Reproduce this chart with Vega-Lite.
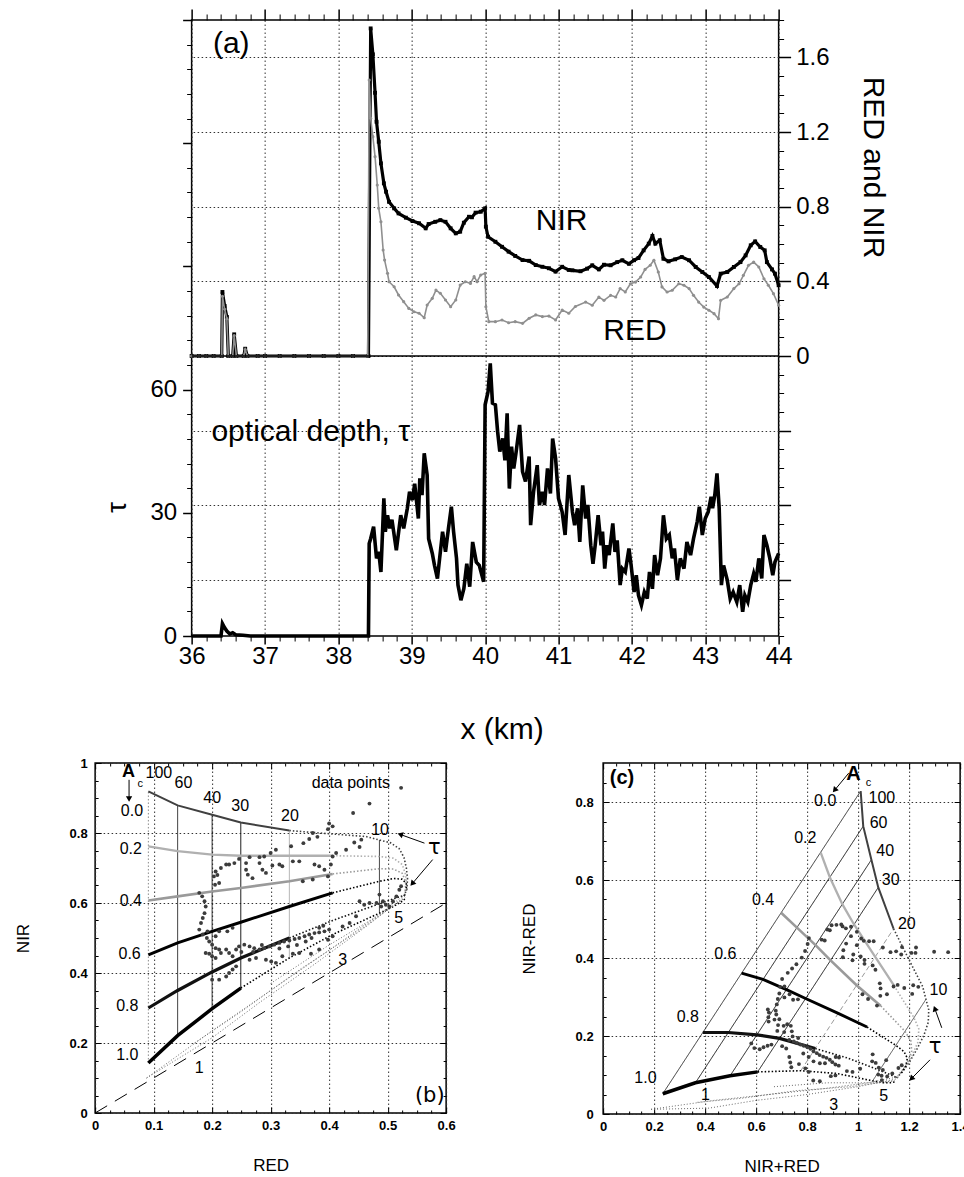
{
  "$schema": "https://vega.github.io/schema/vega-lite/v6.json",
  "background": "white",
  "padding": {"left": 13, "top": 7, "right": 0, "bottom": 0},
  "config": {
    "font": "Liberation Sans",
    "view": {"stroke": "black", "strokeWidth": 1.5},
    "axis": {"domain": false, "grid": false, "labelFlush": false, "labelOverlap": false, "tickColor": "black", "tickWidth": 1, "labelColor": "black", "titleColor": "black", "labelFont": "Liberation Sans", "titleFont": "Liberation Sans", "titleFontWeight": "normal", "gridColor": "#333333", "gridDash": [1.5, 2.5], "gridOpacity": 1, "gridWidth": 1},
    "text": {"font": "Liberation Sans", "color": "black"}
  },
  "datasets": {
    "nir": [
      {"km":36.0,"value":0},{"km":36.1,"value":0},{"km":36.2,"value":0},{"km":36.3,"value":0},{"km":36.41,"value":0},{"km":36.42,"value":0.343},{"km":36.45,"value":0.268},{"km":36.48,"value":0.209},{"km":36.5,"value":0},{"km":36.56,"value":0},{"km":36.58,"value":0.116},{"km":36.61,"value":0},{"km":36.71,"value":0},{"km":36.73,"value":0.039},{"km":36.76,"value":0},{"km":36.9,"value":0},{"km":37.0,"value":0},{"km":37.2,"value":0},{"km":37.4,"value":0},{"km":37.6,"value":0},{"km":37.8,"value":0},{"km":38.0,"value":0},{"km":38.2,"value":0},{"km":38.41,"value":0},
      {"km":38.44,"value":1.755},{"km":38.47,"value":1.616},{"km":38.5,"value":1.41},{"km":38.52,"value":1.255},{"km":38.55,"value":1.148},{"km":38.58,"value":1.032},{"km":38.62,"value":0.925},{"km":38.65,"value":0.88},{"km":38.69,"value":0.826},{"km":38.76,"value":0.791},{"km":38.82,"value":0.764},{"km":38.92,"value":0.741},{"km":39.01,"value":0.723},{"km":39.1,"value":0.711},{"km":39.19,"value":0.684},{"km":39.23,"value":0.707},{"km":39.32,"value":0.719},{"km":39.39,"value":0.728},{"km":39.46,"value":0.719},{"km":39.53,"value":0.684},{"km":39.6,"value":0.657},{"km":39.66,"value":0.666},{"km":39.71,"value":0.714},{"km":39.78,"value":0.746},{"km":39.82,"value":0.743},{"km":39.87,"value":0.768},{"km":39.94,"value":0.773},{"km":40.0,"value":0.791},{"km":40.01,"value":0.693},{"km":40.04,"value":0.639},{"km":40.14,"value":0.612},{"km":40.23,"value":0.585},{"km":40.32,"value":0.559},{"km":40.41,"value":0.536},{"km":40.51,"value":0.514},{"km":40.6,"value":0.51},{"km":40.69,"value":0.487},{"km":40.78,"value":0.478},{"km":40.87,"value":0.47},{"km":40.96,"value":0.452},{"km":41.05,"value":0.478},{"km":41.14,"value":0.461},{"km":41.19,"value":0.459},{"km":41.3,"value":0.454},{"km":41.39,"value":0.468},{"km":41.46,"value":0.486},{"km":41.55,"value":0.464},{"km":41.62,"value":0.489},{"km":41.71,"value":0.486},{"km":41.8,"value":0.503},{"km":41.87,"value":0.513},{"km":41.96,"value":0.494},{"km":42.03,"value":0.513},{"km":42.09,"value":0.525},{"km":42.16,"value":0.566},{"km":42.23,"value":0.602},{"km":42.28,"value":0.643},{"km":42.32,"value":0.602},{"km":42.38,"value":0.62},{"km":42.43,"value":0.521},{"km":42.5,"value":0.507},{"km":42.59,"value":0.518},{"km":42.68,"value":0.53},{"km":42.78,"value":0.513},{"km":42.87,"value":0.477},{"km":42.96,"value":0.45},{"km":43.05,"value":0.423},{"km":43.16,"value":0.375},{"km":43.21,"value":0.441},{"km":43.3,"value":0.45},{"km":43.39,"value":0.477},{"km":43.48,"value":0.503},{"km":43.55,"value":0.539},{"km":43.62,"value":0.593},{"km":43.68,"value":0.614},{"km":43.75,"value":0.584},{"km":43.81,"value":0.566},{"km":43.84,"value":0.503},{"km":43.91,"value":0.464},{"km":43.95,"value":0.441},{"km":44.0,"value":0.379}
    ],
    "red": [
      {"km":36.0,"value":0},{"km":36.1,"value":0},{"km":36.2,"value":0},{"km":36.3,"value":0},{"km":36.41,"value":0},{"km":36.42,"value":0.32},{"km":36.45,"value":0.25},{"km":36.48,"value":0.2},{"km":36.5,"value":0},{"km":36.56,"value":0},{"km":36.58,"value":0.11},{"km":36.61,"value":0},{"km":36.71,"value":0},{"km":36.73,"value":0.035},{"km":36.76,"value":0},{"km":36.9,"value":0},{"km":37.0,"value":0},{"km":37.2,"value":0},{"km":37.4,"value":0},{"km":37.6,"value":0},{"km":37.8,"value":0},{"km":38.0,"value":0},{"km":38.2,"value":0},{"km":38.4,"value":0},
      {"km":38.42,"value":1.478},{"km":38.44,"value":1.273},{"km":38.47,"value":1.175},{"km":38.5,"value":1.068},{"km":38.53,"value":0.916},{"km":38.55,"value":0.791},{"km":38.58,"value":0.719},{"km":38.61,"value":0.568},{"km":38.63,"value":0.514},{"km":38.67,"value":0.443},{"km":38.69,"value":0.398},{"km":38.76,"value":0.371},{"km":38.82,"value":0.327},{"km":38.89,"value":0.291},{"km":38.96,"value":0.255},{"km":39.03,"value":0.237},{"km":39.1,"value":0.229},{"km":39.17,"value":0.205},{"km":39.21,"value":0.273},{"km":39.28,"value":0.309},{"km":39.33,"value":0.353},{"km":39.39,"value":0.336},{"km":39.46,"value":0.3},{"km":39.53,"value":0.264},{"km":39.6,"value":0.3},{"km":39.66,"value":0.38},{"km":39.73,"value":0.398},{"km":39.8,"value":0.389},{"km":39.85,"value":0.425},{"km":39.89,"value":0.398},{"km":39.94,"value":0.434},{"km":40.0,"value":0.443},{"km":40.01,"value":0.264},{"km":40.05,"value":0.184},{"km":40.14,"value":0.184},{"km":40.23,"value":0.193},{"km":40.32,"value":0.178},{"km":40.41,"value":0.184},{"km":40.51,"value":0.175},{"km":40.6,"value":0.202},{"km":40.69,"value":0.22},{"km":40.78,"value":0.211},{"km":40.87,"value":0.214},{"km":40.96,"value":0.193},{"km":41.05,"value":0.246},{"km":41.14,"value":0.229},{"km":41.23,"value":0.265},{"km":41.37,"value":0.289},{"km":41.46,"value":0.272},{"km":41.55,"value":0.316},{"km":41.62,"value":0.298},{"km":41.71,"value":0.325},{"km":41.78,"value":0.316},{"km":41.84,"value":0.361},{"km":41.91,"value":0.343},{"km":41.98,"value":0.387},{"km":42.05,"value":0.396},{"km":42.12,"value":0.423},{"km":42.18,"value":0.464},{"km":42.25,"value":0.486},{"km":42.3,"value":0.513},{"km":42.36,"value":0.45},{"km":42.41,"value":0.37},{"km":42.48,"value":0.343},{"km":42.55,"value":0.352},{"km":42.64,"value":0.387},{"km":42.71,"value":0.379},{"km":42.78,"value":0.361},{"km":42.84,"value":0.325},{"km":42.91,"value":0.289},{"km":42.98,"value":0.262},{"km":43.05,"value":0.245},{"km":43.12,"value":0.227},{"km":43.18,"value":0.2},{"km":43.21,"value":0.298},{"km":43.3,"value":0.316},{"km":43.39,"value":0.361},{"km":43.46,"value":0.387},{"km":43.52,"value":0.432},{"km":43.59,"value":0.486},{"km":43.66,"value":0.503},{"km":43.73,"value":0.477},{"km":43.8,"value":0.414},{"km":43.86,"value":0.379},{"km":43.93,"value":0.334},{"km":44.0,"value":0.272}
    ],
    "tau": [
      {"km":36.0,"tau":0},{"km":36.2,"tau":0},{"km":36.4,"tau":0},{"km":36.42,"tau":3},{"km":36.45,"tau":2},{"km":36.48,"tau":1.2},{"km":36.52,"tau":0.5},{"km":36.56,"tau":0.8},{"km":36.6,"tau":0.3},{"km":36.7,"tau":0.2},{"km":36.8,"tau":0},{"km":37.0,"tau":0},{"km":37.5,"tau":0},{"km":38.0,"tau":0},{"km":38.41,"tau":0},
      {"km":38.42,"tau":22.5},{"km":38.44,"tau":23.7},{"km":38.48,"tau":26.6},{"km":38.52,"tau":18.9},{"km":38.55,"tau":20.5},{"km":38.58,"tau":15.6},{"km":38.62,"tau":33.5},{"km":38.64,"tau":25.4},{"km":38.67,"tau":29.4},{"km":38.7,"tau":26.2},{"km":38.73,"tau":28.3},{"km":38.79,"tau":20.9},{"km":38.85,"tau":29.4},{"km":38.89,"tau":26.2},{"km":38.94,"tau":31.1},{"km":38.97,"tau":35.1},{"km":39.01,"tau":33.1},{"km":39.04,"tau":37.1},{"km":39.09,"tau":28.6},{"km":39.11,"tau":38.4},{"km":39.14,"tau":34.3},{"km":39.17,"tau":44.5},{"km":39.21,"tau":39.2},{"km":39.23,"tau":23.7},{"km":39.28,"tau":20.1},{"km":39.31,"tau":17.2},{"km":39.35,"tau":14},{"km":39.38,"tau":18.9},{"km":39.42,"tau":25.4},{"km":39.46,"tau":20.5},{"km":39.5,"tau":26.2},{"km":39.54,"tau":31.5},{"km":39.57,"tau":25.4},{"km":39.61,"tau":18.9},{"km":39.63,"tau":12.4},{"km":39.67,"tau":8.7},{"km":39.71,"tau":11.5},{"km":39.75,"tau":17.6},{"km":39.79,"tau":12},{"km":39.83,"tau":22.9},{"km":39.88,"tau":18},{"km":39.92,"tau":17.2},{"km":39.98,"tau":13.2},{"km":40.0,"tau":56.3},{"km":40.04,"tau":59.5},{"km":40.07,"tau":66.4},{"km":40.1,"tau":56.7},{"km":40.14,"tau":56.3},{"km":40.17,"tau":49.8},{"km":40.2,"tau":44.9},{"km":40.24,"tau":48.1},{"km":40.27,"tau":42.8},{"km":40.3,"tau":54.2},{"km":40.33,"tau":35.9},{"km":40.36,"tau":46.1},{"km":40.39,"tau":40.8},{"km":40.42,"tau":44.5},{"km":40.47,"tau":51.4},{"km":40.51,"tau":40},{"km":40.55,"tau":37.6},{"km":40.6,"tau":43.7},{"km":40.62,"tau":27},{"km":40.66,"tau":35.1},{"km":40.71,"tau":41.6},{"km":40.74,"tau":31.9},{"km":40.78,"tau":35.1},{"km":40.81,"tau":31.9},{"km":40.85,"tau":40.8},{"km":40.89,"tau":34.7},{"km":40.92,"tau":48.1},{"km":40.96,"tau":43.3},{"km":41.0,"tau":33.5},{"km":41.05,"tau":30.2},{"km":41.09,"tau":24.6},{"km":41.14,"tau":39.2},{"km":41.19,"tau":30.2},{"km":41.22,"tau":27},{"km":41.26,"tau":31.1},{"km":41.29,"tau":22.9},{"km":41.33,"tau":36.7},{"km":41.37,"tau":28.6},{"km":41.4,"tau":31.9},{"km":41.44,"tau":22.1},{"km":41.47,"tau":17.6},{"km":41.5,"tau":22.1},{"km":41.54,"tau":29.4},{"km":41.58,"tau":22.1},{"km":41.6,"tau":25.4},{"km":41.63,"tau":16.4},{"km":41.66,"tau":22.1},{"km":41.69,"tau":19.7},{"km":41.74,"tau":27.4},{"km":41.77,"tau":20.5},{"km":41.8,"tau":23.3},{"km":41.84,"tau":12.4},{"km":41.87,"tau":16.4},{"km":41.91,"tau":15.6},{"km":41.96,"tau":21.3},{"km":41.99,"tau":17.2},{"km":42.03,"tau":10.7},{"km":42.06,"tau":14.8},{"km":42.09,"tau":9.9},{"km":42.13,"tau":7.5},{"km":42.17,"tau":10.7},{"km":42.21,"tau":9.1},{"km":42.24,"tau":15.6},{"km":42.28,"tau":11.5},{"km":42.31,"tau":19.7},{"km":42.35,"tau":14.8},{"km":42.39,"tau":18.9},{"km":42.43,"tau":29.4},{"km":42.47,"tau":23.7},{"km":42.51,"tau":24.6},{"km":42.55,"tau":18.9},{"km":42.58,"tau":21.3},{"km":42.62,"tau":13.6},{"km":42.66,"tau":18.9},{"km":42.71,"tau":16.4},{"km":42.75,"tau":22.9},{"km":42.8,"tau":19.7},{"km":42.84,"tau":23.7},{"km":42.89,"tau":27.8},{"km":42.92,"tau":31.5},{"km":42.96,"tau":24.6},{"km":43.0,"tau":28.6},{"km":43.04,"tau":30.2},{"km":43.08,"tau":33.9},{"km":43.1,"tau":31.1},{"km":43.13,"tau":34.3},{"km":43.16,"tau":39.6},{"km":43.19,"tau":31.1},{"km":43.22,"tau":12.4},{"km":43.25,"tau":17.2},{"km":43.3,"tau":13.6},{"km":43.34,"tau":9.1},{"km":43.38,"tau":10.7},{"km":43.43,"tau":8.3},{"km":43.47,"tau":12.4},{"km":43.51,"tau":5.9},{"km":43.54,"tau":9.9},{"km":43.58,"tau":8.3},{"km":43.62,"tau":12.4},{"km":43.66,"tau":15.2},{"km":43.69,"tau":13.2},{"km":43.73,"tau":18.9},{"km":43.77,"tau":14},{"km":43.8,"tau":24.6},{"km":43.84,"tau":22.1},{"km":43.88,"tau":18.9},{"km":43.92,"tau":14.8},{"km":43.95,"tau":18},{"km":44.0,"tau":20.1}
    ],
    "annotA": [
      {"km":36.29,"value":1.623,"text":"(a)"},
      {"km":40.69,"value":0.675,"text":"NIR"},
      {"km":41.61,"value":0.086,"text":"RED"}
    ],
    "curves": [
      {"Ac":"0.0","seg":"solid","RED":0.091,"NIR":0.919,"sum":1.010,"diff":0.828},
      {"Ac":"0.0","seg":"solid","RED":0.141,"NIR":0.879,"sum":1.020,"diff":0.738},
      {"Ac":"0.0","seg":"solid","RED":0.2,"NIR":0.852,"sum":1.052,"diff":0.652},
      {"Ac":"0.0","seg":"solid","RED":0.249,"NIR":0.830,"sum":1.079,"diff":0.581},
      {"Ac":"0.0","seg":"solid","RED":0.332,"NIR":0.807,"sum":1.139,"diff":0.475},
      {"Ac":"0.0","seg":"dot","RED":0.332,"NIR":0.807,"sum":1.139,"diff":0.475},
      {"Ac":"0.0","seg":"dot","RED":0.406,"NIR":0.797,"sum":1.203,"diff":0.391},
      {"Ac":"0.0","seg":"dot","RED":0.463,"NIR":0.790,"sum":1.253,"diff":0.327},
      {"Ac":"0.0","seg":"dot","RED":0.486,"NIR":0.780,"sum":1.266,"diff":0.294},
      {"Ac":"0.0","seg":"dot","RED":0.505,"NIR":0.772,"sum":1.277,"diff":0.267},
      {"Ac":"0.0","seg":"dot","RED":0.52,"NIR":0.755,"sum":1.275,"diff":0.235},
      {"Ac":"0.0","seg":"dot","RED":0.528,"NIR":0.73,"sum":1.258,"diff":0.202},
      {"Ac":"0.0","seg":"dot","RED":0.532,"NIR":0.70,"sum":1.232,"diff":0.168},
      {"Ac":"0.0","seg":"dot","RED":0.534,"NIR":0.67,"sum":1.204,"diff":0.136},
      {"Ac":"0.0","seg":"dot","RED":0.533,"NIR":0.64,"sum":1.173,"diff":0.107},
      {"Ac":"0.0","seg":"dot","RED":0.528,"NIR":0.62,"sum":1.148,"diff":0.092},
      {"Ac":"0.2","seg":"solid","RED":0.091,"NIR":0.762,"sum":0.853,"diff":0.671},
      {"Ac":"0.2","seg":"solid","RED":0.141,"NIR":0.748,"sum":0.889,"diff":0.607},
      {"Ac":"0.2","seg":"solid","RED":0.2,"NIR":0.738,"sum":0.938,"diff":0.538},
      {"Ac":"0.2","seg":"solid","RED":0.249,"NIR":0.735,"sum":0.984,"diff":0.486},
      {"Ac":"0.2","seg":"solid","RED":0.332,"NIR":0.735,"sum":1.067,"diff":0.403},
      {"Ac":"0.2","seg":"solid","RED":0.406,"NIR":0.735,"sum":1.141,"diff":0.329},
      {"Ac":"0.2","seg":"dot","RED":0.406,"NIR":0.735,"sum":1.141,"diff":0.329},
      {"Ac":"0.2","seg":"dot","RED":0.486,"NIR":0.733,"sum":1.219,"diff":0.247},
      {"Ac":"0.2","seg":"dot","RED":0.51,"NIR":0.728,"sum":1.238,"diff":0.218},
      {"Ac":"0.2","seg":"dot","RED":0.525,"NIR":0.71,"sum":1.235,"diff":0.185},
      {"Ac":"0.2","seg":"dot","RED":0.531,"NIR":0.68,"sum":1.211,"diff":0.149},
      {"Ac":"0.2","seg":"dot","RED":0.532,"NIR":0.65,"sum":1.182,"diff":0.118},
      {"Ac":"0.2","seg":"dot","RED":0.529,"NIR":0.625,"sum":1.154,"diff":0.096},
      {"Ac":"0.4","seg":"solid","RED":0.091,"NIR":0.607,"sum":0.698,"diff":0.516},
      {"Ac":"0.4","seg":"solid","RED":0.141,"NIR":0.619,"sum":0.760,"diff":0.478},
      {"Ac":"0.4","seg":"solid","RED":0.2,"NIR":0.633,"sum":0.833,"diff":0.433},
      {"Ac":"0.4","seg":"solid","RED":0.249,"NIR":0.643,"sum":0.892,"diff":0.394},
      {"Ac":"0.4","seg":"solid","RED":0.332,"NIR":0.662,"sum":0.994,"diff":0.330},
      {"Ac":"0.4","seg":"solid","RED":0.406,"NIR":0.683,"sum":1.089,"diff":0.277},
      {"Ac":"0.4","seg":"dot","RED":0.406,"NIR":0.683,"sum":1.089,"diff":0.277},
      {"Ac":"0.4","seg":"dot","RED":0.486,"NIR":0.698,"sum":1.184,"diff":0.212},
      {"Ac":"0.4","seg":"dot","RED":0.51,"NIR":0.697,"sum":1.207,"diff":0.187},
      {"Ac":"0.4","seg":"dot","RED":0.525,"NIR":0.685,"sum":1.210,"diff":0.160},
      {"Ac":"0.4","seg":"dot","RED":0.531,"NIR":0.66,"sum":1.191,"diff":0.129},
      {"Ac":"0.4","seg":"dot","RED":0.53,"NIR":0.63,"sum":1.160,"diff":0.100},
      {"Ac":"0.6","seg":"solid","RED":0.091,"NIR":0.452,"sum":0.543,"diff":0.361},
      {"Ac":"0.6","seg":"solid","RED":0.141,"NIR":0.486,"sum":0.627,"diff":0.345},
      {"Ac":"0.6","seg":"solid","RED":0.2,"NIR":0.519,"sum":0.719,"diff":0.319},
      {"Ac":"0.6","seg":"solid","RED":0.249,"NIR":0.545,"sum":0.794,"diff":0.296},
      {"Ac":"0.6","seg":"solid","RED":0.332,"NIR":0.590,"sum":0.922,"diff":0.258},
      {"Ac":"0.6","seg":"solid","RED":0.406,"NIR":0.629,"sum":1.035,"diff":0.223},
      {"Ac":"0.6","seg":"dot","RED":0.406,"NIR":0.629,"sum":1.035,"diff":0.223},
      {"Ac":"0.6","seg":"dot","RED":0.486,"NIR":0.662,"sum":1.148,"diff":0.176},
      {"Ac":"0.6","seg":"dot","RED":0.51,"NIR":0.670,"sum":1.180,"diff":0.160},
      {"Ac":"0.6","seg":"dot","RED":0.525,"NIR":0.668,"sum":1.193,"diff":0.143},
      {"Ac":"0.6","seg":"dot","RED":0.532,"NIR":0.655,"sum":1.187,"diff":0.123},
      {"Ac":"0.6","seg":"dot","RED":0.532,"NIR":0.635,"sum":1.167,"diff":0.103},
      {"Ac":"0.8","seg":"solid","RED":0.091,"NIR":0.300,"sum":0.391,"diff":0.209},
      {"Ac":"0.8","seg":"solid","RED":0.141,"NIR":0.350,"sum":0.491,"diff":0.209},
      {"Ac":"0.8","seg":"solid","RED":0.2,"NIR":0.403,"sum":0.603,"diff":0.203},
      {"Ac":"0.8","seg":"solid","RED":0.249,"NIR":0.443,"sum":0.692,"diff":0.194},
      {"Ac":"0.8","seg":"solid","RED":0.332,"NIR":0.500,"sum":0.832,"diff":0.168},
      {"Ac":"0.8","seg":"dot","RED":0.332,"NIR":0.500,"sum":0.832,"diff":0.168},
      {"Ac":"0.8","seg":"dot","RED":0.406,"NIR":0.550,"sum":0.956,"diff":0.144},
      {"Ac":"0.8","seg":"dot","RED":0.486,"NIR":0.598,"sum":1.084,"diff":0.112},
      {"Ac":"0.8","seg":"dot","RED":0.51,"NIR":0.612,"sum":1.122,"diff":0.102},
      {"Ac":"0.8","seg":"dot","RED":0.525,"NIR":0.62,"sum":1.145,"diff":0.095},
      {"Ac":"0.8","seg":"dot","RED":0.532,"NIR":0.625,"sum":1.157,"diff":0.093},
      {"Ac":"1.0","seg":"solid","RED":0.091,"NIR":0.143,"sum":0.234,"diff":0.052},
      {"Ac":"1.0","seg":"solid","RED":0.141,"NIR":0.221,"sum":0.362,"diff":0.080},
      {"Ac":"1.0","seg":"solid","RED":0.2,"NIR":0.298,"sum":0.498,"diff":0.098},
      {"Ac":"1.0","seg":"solid","RED":0.249,"NIR":0.357,"sum":0.606,"diff":0.108},
      {"Ac":"1.0","seg":"dot","RED":0.249,"NIR":0.357,"sum":0.606,"diff":0.108},
      {"Ac":"1.0","seg":"dot","RED":0.332,"NIR":0.443,"sum":0.775,"diff":0.111},
      {"Ac":"1.0","seg":"dot","RED":0.406,"NIR":0.510,"sum":0.916,"diff":0.104},
      {"Ac":"1.0","seg":"dot","RED":0.486,"NIR":0.571,"sum":1.057,"diff":0.085},
      {"Ac":"1.0","seg":"dot","RED":0.51,"NIR":0.59,"sum":1.1,"diff":0.08},
      {"Ac":"1.0","seg":"dot","RED":0.525,"NIR":0.605,"sum":1.13,"diff":0.08},
      {"Ac":"1.0","seg":"dot","RED":0.532,"NIR":0.615,"sum":1.147,"diff":0.083}
    ],
    "taulines": [
      {"tau":"100","RED":0.091,"NIR":0.143,"sum":0.234,"diff":0.052},{"tau":"100","RED":0.091,"NIR":0.919,"sum":1.010,"diff":0.828},
      {"tau":"60","RED":0.141,"NIR":0.221,"sum":0.362,"diff":0.080},{"tau":"60","RED":0.141,"NIR":0.879,"sum":1.020,"diff":0.738},
      {"tau":"40","RED":0.2,"NIR":0.298,"sum":0.498,"diff":0.098},{"tau":"40","RED":0.2,"NIR":0.852,"sum":1.052,"diff":0.652},
      {"tau":"30","RED":0.249,"NIR":0.357,"sum":0.606,"diff":0.108},{"tau":"30","RED":0.249,"NIR":0.830,"sum":1.079,"diff":0.581},
      {"tau":"20","RED":0.332,"NIR":0.443,"sum":0.775,"diff":0.111},{"tau":"20","RED":0.332,"NIR":0.807,"sum":1.139,"diff":0.475},
      {"tau":"10","RED":0.486,"NIR":0.571,"sum":1.057,"diff":0.085},{"tau":"10","RED":0.486,"NIR":0.780,"sum":1.266,"diff":0.294}
    ],
    "thin": [
      {"line":"h1","RED":0.088,"NIR":0.100,"sum":0.188,"diff":0.012},{"line":"h1","RED":0.2,"NIR":0.215,"sum":0.415,"diff":0.015},{"line":"h1","RED":0.283,"NIR":0.318,"sum":0.601,"diff":0.035},{"line":"h1","RED":0.375,"NIR":0.425,"sum":0.8,"diff":0.05},{"line":"h1","RED":0.465,"NIR":0.535,"sum":1.0,"diff":0.07},{"line":"h1","RED":0.53,"NIR":0.62,"sum":1.15,"diff":0.09},
      {"line":"h2","RED":0.088,"NIR":0.100,"sum":0.188,"diff":0.012},{"line":"h2","RED":0.2,"NIR":0.235,"sum":0.435,"diff":0.035},{"line":"h2","RED":0.3,"NIR":0.35,"sum":0.65,"diff":0.05},{"line":"h2","RED":0.4,"NIR":0.465,"sum":0.865,"diff":0.065},{"line":"h2","RED":0.48,"NIR":0.56,"sum":1.04,"diff":0.08},{"line":"h2","RED":0.53,"NIR":0.625,"sum":1.155,"diff":0.095},
      {"line":"h3","RED":0.17,"NIR":0.2,"sum":0.37,"diff":0.03},{"line":"h3","RED":0.25,"NIR":0.29,"sum":0.54,"diff":0.04},{"line":"h3","RED":0.35,"NIR":0.41,"sum":0.76,"diff":0.06},{"line":"h3","RED":0.45,"NIR":0.52,"sum":0.97,"diff":0.07},{"line":"h3","RED":0.525,"NIR":0.61,"sum":1.135,"diff":0.085},
      {"line":"h4","RED":0.3,"NIR":0.37,"sum":0.67,"diff":0.07},{"line":"h4","RED":0.4,"NIR":0.48,"sum":0.88,"diff":0.08},{"line":"h4","RED":0.5,"NIR":0.58,"sum":1.08,"diff":0.08},{"line":"h4","RED":0.53,"NIR":0.615,"sum":1.145,"diff":0.085}
    ],
    "pixels": [
      {"RED":0.523,"NIR":0.929,"sum":1.452,"diff":0.406},{"RED":0.469,"NIR":0.884,"sum":1.353,"diff":0.415},{"RED":0.441,"NIR":0.857,"sum":1.298,"diff":0.416},{"RED":0.4,"NIR":0.827,"sum":1.227,"diff":0.427},{"RED":0.406,"NIR":0.819,"sum":1.225,"diff":0.413},{"RED":0.398,"NIR":0.811,"sum":1.209,"diff":0.413},{"RED":0.372,"NIR":0.8,"sum":1.172,"diff":0.428},{"RED":0.38,"NIR":0.789,"sum":1.169,"diff":0.409},{"RED":0.366,"NIR":0.783,"sum":1.149,"diff":0.417},{"RED":0.356,"NIR":0.771,"sum":1.127,"diff":0.415},
      {"RED":0.455,"NIR":0.781,"sum":1.236,"diff":0.326},{"RED":0.443,"NIR":0.773,"sum":1.216,"diff":0.33},{"RED":0.452,"NIR":0.76,"sum":1.212,"diff":0.308},{"RED":0.429,"NIR":0.752,"sum":1.181,"diff":0.323},{"RED":0.335,"NIR":0.762,"sum":1.097,"diff":0.427},{"RED":0.309,"NIR":0.752,"sum":1.061,"diff":0.443},{"RED":0.3,"NIR":0.743,"sum":1.043,"diff":0.443},{"RED":0.289,"NIR":0.733,"sum":1.022,"diff":0.444},{"RED":0.281,"NIR":0.731,"sum":1.012,"diff":0.45},{"RED":0.264,"NIR":0.731,"sum":0.995,"diff":0.467},
      {"RED":0.246,"NIR":0.726,"sum":0.972,"diff":0.48},{"RED":0.238,"NIR":0.714,"sum":0.952,"diff":0.476},{"RED":0.229,"NIR":0.71,"sum":0.939,"diff":0.481},{"RED":0.224,"NIR":0.71,"sum":0.934,"diff":0.486},{"RED":0.215,"NIR":0.7,"sum":0.915,"diff":0.485},{"RED":0.206,"NIR":0.69,"sum":0.896,"diff":0.484},{"RED":0.203,"NIR":0.676,"sum":0.879,"diff":0.473},{"RED":0.209,"NIR":0.68,"sum":0.889,"diff":0.471},{"RED":0.205,"NIR":0.652,"sum":0.857,"diff":0.447},{"RED":0.212,"NIR":0.657,"sum":0.869,"diff":0.445},
      {"RED":0.281,"NIR":0.714,"sum":0.995,"diff":0.433},{"RED":0.286,"NIR":0.695,"sum":0.981,"diff":0.409},{"RED":0.292,"NIR":0.686,"sum":0.978,"diff":0.394},{"RED":0.303,"NIR":0.707,"sum":1.01,"diff":0.404},{"RED":0.315,"NIR":0.71,"sum":1.025,"diff":0.395},{"RED":0.32,"NIR":0.705,"sum":1.025,"diff":0.385},{"RED":0.338,"NIR":0.719,"sum":1.057,"diff":0.381},{"RED":0.349,"NIR":0.719,"sum":1.068,"diff":0.37},{"RED":0.375,"NIR":0.71,"sum":1.085,"diff":0.335},{"RED":0.383,"NIR":0.705,"sum":1.088,"diff":0.322},
      {"RED":0.392,"NIR":0.695,"sum":1.087,"diff":0.303},{"RED":0.398,"NIR":0.676,"sum":1.074,"diff":0.278},{"RED":0.403,"NIR":0.71,"sum":1.113,"diff":0.307},{"RED":0.355,"NIR":0.662,"sum":1.017,"diff":0.307},{"RED":0.372,"NIR":0.667,"sum":1.039,"diff":0.295},{"RED":0.258,"NIR":0.695,"sum":0.953,"diff":0.437},{"RED":0.261,"NIR":0.681,"sum":0.942,"diff":0.42},{"RED":0.269,"NIR":0.671,"sum":0.94,"diff":0.402},{"RED":0.258,"NIR":0.714,"sum":0.972,"diff":0.456},{"RED":0.406,"NIR":0.733,"sum":1.139,"diff":0.327},
      {"RED":0.412,"NIR":0.743,"sum":1.155,"diff":0.331},{"RED":0.178,"NIR":0.629,"sum":0.807,"diff":0.451},{"RED":0.183,"NIR":0.619,"sum":0.802,"diff":0.436},{"RED":0.187,"NIR":0.605,"sum":0.792,"diff":0.418},{"RED":0.189,"NIR":0.59,"sum":0.779,"diff":0.401},{"RED":0.187,"NIR":0.571,"sum":0.758,"diff":0.384},{"RED":0.184,"NIR":0.557,"sum":0.741,"diff":0.373},{"RED":0.181,"NIR":0.543,"sum":0.724,"diff":0.362},{"RED":0.178,"NIR":0.524,"sum":0.702,"diff":0.346},{"RED":0.184,"NIR":0.51,"sum":0.694,"diff":0.326},
      {"RED":0.191,"NIR":0.5,"sum":0.691,"diff":0.309},{"RED":0.195,"NIR":0.49,"sum":0.685,"diff":0.295},{"RED":0.2,"NIR":0.481,"sum":0.681,"diff":0.281},{"RED":0.206,"NIR":0.471,"sum":0.677,"diff":0.265},{"RED":0.212,"NIR":0.467,"sum":0.679,"diff":0.255},{"RED":0.189,"NIR":0.457,"sum":0.646,"diff":0.268},{"RED":0.195,"NIR":0.455,"sum":0.65,"diff":0.26},{"RED":0.2,"NIR":0.448,"sum":0.648,"diff":0.248},{"RED":0.206,"NIR":0.443,"sum":0.649,"diff":0.237},{"RED":0.215,"NIR":0.457,"sum":0.672,"diff":0.242},
      {"RED":0.224,"NIR":0.467,"sum":0.691,"diff":0.243},{"RED":0.229,"NIR":0.457,"sum":0.686,"diff":0.228},{"RED":0.235,"NIR":0.448,"sum":0.683,"diff":0.213},{"RED":0.241,"NIR":0.467,"sum":0.708,"diff":0.226},{"RED":0.246,"NIR":0.476,"sum":0.722,"diff":0.23},{"RED":0.255,"NIR":0.481,"sum":0.736,"diff":0.226},{"RED":0.264,"NIR":0.476,"sum":0.74,"diff":0.212},{"RED":0.272,"NIR":0.471,"sum":0.743,"diff":0.199},{"RED":0.281,"NIR":0.467,"sum":0.748,"diff":0.186},{"RED":0.289,"NIR":0.471,"sum":0.76,"diff":0.182},
      {"RED":0.298,"NIR":0.476,"sum":0.774,"diff":0.178},{"RED":0.306,"NIR":0.481,"sum":0.787,"diff":0.175},{"RED":0.315,"NIR":0.486,"sum":0.801,"diff":0.171},{"RED":0.323,"NIR":0.49,"sum":0.813,"diff":0.167},{"RED":0.332,"NIR":0.493,"sum":0.825,"diff":0.161},{"RED":0.341,"NIR":0.497,"sum":0.838,"diff":0.156},{"RED":0.349,"NIR":0.5,"sum":0.849,"diff":0.151},{"RED":0.358,"NIR":0.505,"sum":0.863,"diff":0.147},{"RED":0.366,"NIR":0.51,"sum":0.876,"diff":0.144},{"RED":0.375,"NIR":0.514,"sum":0.889,"diff":0.139},
      {"RED":0.383,"NIR":0.516,"sum":0.899,"diff":0.133},{"RED":0.392,"NIR":0.519,"sum":0.911,"diff":0.127},{"RED":0.4,"NIR":0.524,"sum":0.924,"diff":0.124},{"RED":0.383,"NIR":0.529,"sum":0.912,"diff":0.146},{"RED":0.212,"NIR":0.381,"sum":0.593,"diff":0.169},{"RED":0.224,"NIR":0.39,"sum":0.614,"diff":0.166},{"RED":0.235,"NIR":0.41,"sum":0.645,"diff":0.175},{"RED":0.229,"NIR":0.4,"sum":0.629,"diff":0.171},{"RED":0.241,"NIR":0.419,"sum":0.66,"diff":0.178},{"RED":0.2,"NIR":0.381,"sum":0.581,"diff":0.181},
      {"RED":0.264,"NIR":0.438,"sum":0.702,"diff":0.174},{"RED":0.275,"NIR":0.443,"sum":0.718,"diff":0.168},{"RED":0.292,"NIR":0.438,"sum":0.73,"diff":0.146},{"RED":0.301,"NIR":0.433,"sum":0.734,"diff":0.132},{"RED":0.309,"NIR":0.429,"sum":0.738,"diff":0.12},{"RED":0.32,"NIR":0.448,"sum":0.768,"diff":0.128},{"RED":0.338,"NIR":0.455,"sum":0.793,"diff":0.117},{"RED":0.349,"NIR":0.457,"sum":0.806,"diff":0.108},{"RED":0.369,"NIR":0.455,"sum":0.824,"diff":0.086},{"RED":0.383,"NIR":0.467,"sum":0.85,"diff":0.084},
      {"RED":0.398,"NIR":0.495,"sum":0.893,"diff":0.097},{"RED":0.192,"NIR":0.519,"sum":0.711,"diff":0.327},{"RED":0.206,"NIR":0.505,"sum":0.711,"diff":0.299},{"RED":0.212,"NIR":0.519,"sum":0.731,"diff":0.307},{"RED":0.226,"NIR":0.519,"sum":0.745,"diff":0.293},{"RED":0.235,"NIR":0.529,"sum":0.764,"diff":0.294},{"RED":0.452,"NIR":0.605,"sum":1.057,"diff":0.153},{"RED":0.46,"NIR":0.595,"sum":1.055,"diff":0.135},{"RED":0.469,"NIR":0.6,"sum":1.069,"diff":0.131},{"RED":0.486,"NIR":0.624,"sum":1.11,"diff":0.138},
      {"RED":0.492,"NIR":0.605,"sum":1.097,"diff":0.113},{"RED":0.497,"NIR":0.595,"sum":1.092,"diff":0.098},{"RED":0.503,"NIR":0.59,"sum":1.093,"diff":0.087},{"RED":0.509,"NIR":0.605,"sum":1.114,"diff":0.096},{"RED":0.515,"NIR":0.619,"sum":1.134,"diff":0.104},{"RED":0.52,"NIR":0.638,"sum":1.158,"diff":0.118},{"RED":0.523,"NIR":0.648,"sum":1.171,"diff":0.125},{"RED":0.489,"NIR":0.59,"sum":1.079,"diff":0.101},{"RED":0.481,"NIR":0.6,"sum":1.081,"diff":0.119},{"RED":0.446,"NIR":0.562,"sum":1.008,"diff":0.116},
      {"RED":0.435,"NIR":0.543,"sum":0.978,"diff":0.108},{"RED":0.423,"NIR":0.533,"sum":0.956,"diff":0.11},{"RED":0.406,"NIR":0.505,"sum":0.911,"diff":0.099},{"RED":0.36,"NIR":0.49,"sum":0.85,"diff":0.13},{"RED":0.345,"NIR":0.48,"sum":0.825,"diff":0.135},{"RED":0.33,"NIR":0.476,"sum":0.806,"diff":0.146},{"RED":0.315,"NIR":0.47,"sum":0.785,"diff":0.155},{"RED":0.37,"NIR":0.5,"sum":0.87,"diff":0.13},{"RED":0.39,"NIR":0.535,"sum":0.925,"diff":0.145},{"RED":0.25,"NIR":0.46,"sum":0.71,"diff":0.21},
      {"RED":0.27,"NIR":0.46,"sum":0.73,"diff":0.19},{"RED":0.285,"NIR":0.48,"sum":0.765,"diff":0.195}
    ],
    "labelsB": [
      {"RED":0.109,"NIR":0.971,"text":"100","kind":"num"},{"RED":0.151,"NIR":0.943,"text":"60","kind":"num"},{"RED":0.2,"NIR":0.9,"text":"40","kind":"num"},{"RED":0.248,"NIR":0.876,"text":"30","kind":"num"},{"RED":0.333,"NIR":0.85,"text":"20","kind":"num"},{"RED":0.487,"NIR":0.81,"text":"10","kind":"num"},
      {"RED":0.063,"NIR":0.862,"text":"0.0","kind":"num"},{"RED":0.061,"NIR":0.754,"text":"0.2","kind":"num"},{"RED":0.061,"NIR":0.605,"text":"0.4","kind":"num"},{"RED":0.059,"NIR":0.455,"text":"0.6","kind":"num"},{"RED":0.055,"NIR":0.305,"text":"0.8","kind":"num"},{"RED":0.055,"NIR":0.167,"text":"1.0","kind":"num"},
      {"RED":0.178,"NIR":0.129,"text":"1","kind":"num"},{"RED":0.423,"NIR":0.438,"text":"3","kind":"num"},{"RED":0.519,"NIR":0.557,"text":"5","kind":"num"},{"RED":0.437,"NIR":0.943,"text":"data points","kind":"num"},
      {"RED":0.58,"NIR":0.757,"text":"τ","kind":"tau"},{"RED":0.572,"NIR":0.048,"text":"(b)","kind":"panel"},{"RED":0.057,"NIR":0.974,"text":"A","kind":"A"},{"RED":0.077,"NIR":0.941,"text":"c","kind":"sub"}
    ],
    "labelsC": [
      {"sum":0.871,"diff":0.802,"text":"0.0","kind":"num"},{"sum":1.093,"diff":0.81,"text":"100","kind":"num"},{"sum":1.08,"diff":0.746,"text":"60","kind":"num"},{"sum":0.793,"diff":0.708,"text":"0.2","kind":"num"},{"sum":1.106,"diff":0.674,"text":"40","kind":"num"},{"sum":1.128,"diff":0.601,"text":"30","kind":"num"},{"sum":0.627,"diff":0.55,"text":"0.4","kind":"num"},{"sum":1.191,"diff":0.488,"text":"20","kind":"num"},{"sum":0.479,"diff":0.409,"text":"0.6","kind":"num"},{"sum":1.315,"diff":0.319,"text":"10","kind":"num"},{"sum":0.332,"diff":0.25,"text":"0.8","kind":"num"},{"sum":0.166,"diff":0.092,"text":"1.0","kind":"num"},{"sum":0.401,"diff":0.05,"text":"1","kind":"num"},{"sum":0.904,"diff":0.024,"text":"3","kind":"num"},{"sum":1.1,"diff":0.045,"text":"5","kind":"num"},
      {"sum":1.302,"diff":0.171,"text":"τ","kind":"tau"},{"sum":0.074,"diff":0.862,"text":"(c)","kind":"panel"},{"sum":0.982,"diff":0.873,"text":"A","kind":"A"},{"sum":1.041,"diff":0.849,"text":"c","kind":"sub"}
    ],
    "arrowsB": [
      {"RED":0.563,"NIR":0.771,"RED2":0.523,"NIR2":0.795},
      {"RED":0.577,"NIR":0.724,"RED2":0.543,"NIR2":0.657},
      {"RED":0.058,"NIR":0.952,"RED2":0.058,"NIR2":0.9}
    ],
    "arrowsC": [
      {"sum":1.328,"diff":0.221,"sum2":1.302,"diff2":0.268},
      {"sum":1.282,"diff":0.139,"sum2":1.211,"diff2":0.092},
      {"sum":0.963,"diff":0.874,"sum2":0.910,"diff2":0.832}
    ]
  },
  "spacing": 11,
  "center": true,
  "vconcat": [
    {
      "width": 587,
      "height": 616,
      "resolve": {"scale": {"y": "independent"}, "axis": {"x": "independent", "y": "independent"}},
      "layer": [
        {
          "data": {"name": "nir"},
          "mark": {"type": "line", "color": "black", "strokeWidth": 3.2, "point": {"shape": "square", "size": 15, "filled": true, "color": "black"}},
          "encoding": {
            "x": {"field": "km", "type": "quantitative", "scale": {"domain": [36, 44], "nice": false, "zero": false},
                  "axis": {"orient": "bottom", "values": [36, 37, 38, 39, 40, 41, 42, 43, 44], "format": "d", "labelFontSize": 24, "labelPadding": 0, "tickSize": 8, "tickWidth": 1.5, "grid": true, "title": "x (km)", "titleFontSize": 30, "titleX": 310, "titleY": 93, "titleAlign": "center", "titleBaseline": "middle"}},
            "y": {"field": "value", "type": "quantitative", "scale": {"domain": [-1.5, 1.8], "nice": false, "zero": false},
                  "axis": {"orient": "right", "values": [-1.2, -0.8, -0.4, 0, 0.4, 0.8, 1.2, 1.6], "format": ".1~f", "labelExpr": "datum.value < 0 ? '' : datum.label", "labelFontSize": 24, "labelPadding": 5, "tickSize": 12, "tickWidth": 1.5, "grid": true, "title": "RED and NIR", "titleFontSize": 30, "titleAngle": 90, "titleX": 94, "titleY": 147, "titleAlign": "center", "titleBaseline": "middle"}}
          }
        },
        {
          "data": {"name": "red"},
          "mark": {"type": "line", "color": "#8f8f8f", "strokeWidth": 1.6, "point": {"shape": "circle", "size": 10, "filled": true, "color": "#8f8f8f"}},
          "encoding": {
            "x": {"field": "km", "type": "quantitative", "scale": {"domain": [36, 44], "nice": false, "zero": false},
                  "axis": {"orient": "top", "values": [36, 37, 38, 39, 40, 41, 42, 43, 44], "labels": false, "tickSize": 11, "tickWidth": 1.5, "title": null}},
            "y": {"field": "value", "type": "quantitative", "scale": {"domain": [-1.5, 1.8], "nice": false, "zero": false},
                  "axis": {"orient": "right", "values": [-1.5, -1.4, -1.3, -1.2, -1.1, -1, -0.9, -0.8, -0.7, -0.6, -0.5, -0.4, -0.3, -0.2, -0.1, 0, 0.1, 0.2, 0.3, 0.4, 0.5, 0.6, 0.7, 0.8, 0.9, 1, 1.1, 1.2, 1.3, 1.4, 1.5, 1.6, 1.7, 1.8], "labels": false, "tickSize": 5, "title": null}}
          }
        },
        {
          "data": {"name": "tau"},
          "mark": {"type": "line", "color": "black", "strokeWidth": 3.6},
          "encoding": {
            "x": {"field": "km", "type": "quantitative", "scale": {"domain": [36, 44], "nice": false, "zero": false},
                  "axis": {"orient": "top", "values": [36.2, 36.4, 36.6, 36.8, 37.2, 37.4, 37.6, 37.8, 38.2, 38.4, 38.6, 38.8, 39.2, 39.4, 39.6, 39.8, 40.2, 40.4, 40.6, 40.8, 41.2, 41.4, 41.6, 41.8, 42.2, 42.4, 42.6, 42.8, 43.2, 43.4, 43.6, 43.8], "labels": false, "tickSize": 6, "title": null}},
            "y": {"field": "tau", "type": "quantitative", "scale": {"domain": [0, 150], "nice": false, "zero": false},
                  "axis": {"orient": "left", "values": [0, 30, 60, 90, 120, 150], "labelExpr": "datum.value > 60 ? '' : datum.label", "labelFontSize": 24, "labelPadding": 6, "tickSize": 9, "tickWidth": 1.5, "title": "τ", "titleFontSize": 28, "titleAngle": -90, "titleX": -74, "titleY": 487, "titleAlign": "center", "titleBaseline": "middle"}}
          }
        },
        {
          "data": {"values": [{"value": 0}]},
          "mark": {"type": "rule", "color": "black", "strokeWidth": 1.5},
          "encoding": {
            "y": {"field": "value", "type": "quantitative", "scale": {"domain": [-1.5, 1.8], "nice": false, "zero": false}, "axis": null}
          }
        },
        {
          "data": {"name": "annotA"},
          "mark": {"type": "text", "fontSize": 30, "align": "left", "baseline": "alphabetic"},
          "encoding": {
            "x": {"field": "km", "type": "quantitative", "scale": {"domain": [36, 44], "nice": false, "zero": false},
                  "axis": {"orient": "bottom", "values": [36.2, 36.4, 36.6, 36.8, 37.2, 37.4, 37.6, 37.8, 38.2, 38.4, 38.6, 38.8, 39.2, 39.4, 39.6, 39.8, 40.2, 40.4, 40.6, 40.8, 41.2, 41.4, 41.6, 41.8, 42.2, 42.4, 42.6, 42.8, 43.2, 43.4, 43.6, 43.8], "labels": false, "tickSize": 5, "title": null}},
            "y": {"field": "value", "type": "quantitative", "scale": {"domain": [-1.5, 1.8], "nice": false, "zero": false}, "axis": null},
            "text": {"field": "text"}
          }
        },
        {
          "data": {"values": [{"km": 36.27, "tau": 47.6, "text": "optical depth, τ"}]},
          "mark": {"type": "text", "fontSize": 30, "align": "left", "baseline": "alphabetic"},
          "encoding": {
            "x": {"field": "km", "type": "quantitative", "scale": {"domain": [36, 44], "nice": false, "zero": false}, "axis": null},
            "y": {"field": "tau", "type": "quantitative", "scale": {"domain": [0, 150], "nice": false, "zero": false},
                  "axis": {"orient": "left", "values": [0, 6, 12, 18, 24, 30, 36, 42, 48, 54, 60, 66, 72, 78, 84, 90, 96, 102, 108, 114, 120, 126, 132, 138, 144, 150], "labels": false, "tickSize": 5, "title": null}},
            "text": {"field": "text"}
          }
        }
      ]
    },
    {
      "spacing": 63,
      "resolve": {"scale": {"color": "independent", "strokeDash": "independent", "strokeWidth": "independent"}},
      "hconcat": [
        {
          "width": 351,
          "height": 350,
          "resolve": {"scale": {"color": "independent", "strokeWidth": "independent"}, "axis": {"x": "independent", "y": "independent"}},
          "layer": [
            {
              "data": {"values": [{"RED": 0, "NIR": 0}, {"RED": 0.6, "NIR": 0.6}]},
              "mark": {"type": "line", "color": "black", "strokeWidth": 1, "strokeDash": [14, 9]},
              "encoding": {
                "x": {"field": "RED", "type": "quantitative", "scale": {"domain": [0, 0.6], "nice": false, "zero": false},
                      "axis": {"orient": "bottom", "values": [0, 0.1, 0.2, 0.3, 0.4, 0.5, 0.6], "format": ".1~f", "labelFontSize": 13, "labelFontWeight": "bold", "ticks": false, "labelPadding": 6, "grid": true, "title": "RED", "titleFontSize": 17, "titlePadding": 25}},
                "y": {"field": "NIR", "type": "quantitative", "scale": {"domain": [0, 1], "nice": false, "zero": false},
                      "axis": {"orient": "left", "values": [0, 0.2, 0.4, 0.6, 0.8, 1], "format": ".1~f", "labelFontSize": 13, "labelFontWeight": "bold", "ticks": false, "labelPadding": 8, "grid": true, "title": "NIR", "titleFontSize": 17, "titlePadding": 37}}
              }
            },
            {
              "data": {"name": "taulines"},
              "mark": {"type": "line", "strokeWidth": 1},
              "encoding": {
                "x": {"field": "RED", "type": "quantitative", "scale": {"domain": [0, 0.6], "nice": false, "zero": false},
                      "axis": {"orient": "bottom", "values": [0, 0.1, 0.2, 0.3, 0.4, 0.5, 0.6], "labels": false, "tickSize": -6, "title": null}},
                "y": {"field": "NIR", "type": "quantitative", "scale": {"domain": [0, 1], "nice": false, "zero": false},
                      "axis": {"orient": "left", "values": [0, 0.2, 0.4, 0.6, 0.8, 1], "labels": false, "tickSize": -6, "title": null}},
                "color": {"field": "tau", "type": "nominal", "scale": {"domain": ["100", "60", "40", "30", "20", "10"], "range": ["#8a8a8a", "#1a1a1a", "#1a1a1a", "#1a1a1a", "#b3b3b3", "#333333"]}, "legend": null},
                "strokeDash": {"field": "tau", "type": "nominal", "scale": {"domain": ["100", "60", "40", "30", "20", "10"], "range": [[1.5, 2], [1, 0], [1, 0], [1, 0], [1, 0], [1, 0]]}, "legend": null}
              }
            },
            {
              "data": {"name": "curves"},
              "transform": [{"filter": "datum.seg === 'solid'"}],
              "mark": {"type": "line"},
              "encoding": {
                "x": {"field": "RED", "type": "quantitative", "scale": {"domain": [0, 0.6], "nice": false, "zero": false},
                      "axis": {"orient": "bottom", "values": [0.025, 0.05, 0.075, 0.125, 0.15, 0.175, 0.225, 0.25, 0.275, 0.325, 0.35, 0.375, 0.425, 0.45, 0.475, 0.525, 0.55, 0.575], "labels": false, "tickSize": -3, "title": null}},
                "y": {"field": "NIR", "type": "quantitative", "scale": {"domain": [0, 1], "nice": false, "zero": false},
                      "axis": {"orient": "left", "values": [0.05, 0.1, 0.15, 0.25, 0.3, 0.35, 0.45, 0.5, 0.55, 0.65, 0.7, 0.75, 0.85, 0.9, 0.95], "labels": false, "tickSize": -3, "title": null}},
                "color": {"field": "Ac", "type": "nominal", "scale": {"domain": ["0.0", "0.2", "0.4", "0.6", "0.8", "1.0"], "range": ["#404040", "#b0b0b0", "#9a9a9a", "#000000", "#111111", "#000000"]}, "legend": null},
                "strokeWidth": {"field": "Ac", "type": "nominal", "scale": {"domain": ["0.0", "0.2", "0.4", "0.6", "0.8", "1.0"], "range": [2, 3.5, 2.5, 3, 2, 3.5]}, "legend": null},
                "order": {"value": null}
              }
            },
            {
              "data": {"name": "curves"},
              "transform": [{"filter": "datum.seg === 'dot'"}],
              "mark": {"type": "line", "strokeWidth": 1.6, "strokeDash": [1.5, 2]},
              "encoding": {
                "x": {"field": "RED", "type": "quantitative", "scale": {"domain": [0, 0.6], "nice": false, "zero": false},
                      "axis": {"orient": "top", "values": [0, 0.1, 0.2, 0.3, 0.4, 0.5, 0.6], "labels": false, "tickSize": -6, "title": null}},
                "y": {"field": "NIR", "type": "quantitative", "scale": {"domain": [0, 1], "nice": false, "zero": false},
                      "axis": {"orient": "right", "values": [0, 0.2, 0.4, 0.6, 0.8, 1], "labels": false, "tickSize": -6, "title": null}},
                "color": {"field": "Ac", "type": "nominal", "scale": {"domain": ["0.0", "0.2", "0.4", "0.6", "0.8", "1.0"], "range": ["#404040", "#b0b0b0", "#9a9a9a", "#000000", "#111111", "#000000"]}, "legend": null},
                "order": {"value": null}
              }
            },
            {
              "data": {"name": "thin"},
              "mark": {"type": "line", "strokeWidth": 1, "strokeDash": [1, 2], "color": "#6a6a6a"},
              "encoding": {
                "x": {"field": "RED", "type": "quantitative", "scale": {"domain": [0, 0.6], "nice": false, "zero": false},
                      "axis": {"orient": "top", "values": [0.025, 0.05, 0.075, 0.125, 0.15, 0.175, 0.225, 0.25, 0.275, 0.325, 0.35, 0.375, 0.425, 0.45, 0.475, 0.525, 0.55, 0.575], "labels": false, "tickSize": -3, "title": null}},
                "y": {"field": "NIR", "type": "quantitative", "scale": {"domain": [0, 1], "nice": false, "zero": false},
                      "axis": {"orient": "right", "values": [0.05, 0.1, 0.15, 0.25, 0.3, 0.35, 0.45, 0.5, 0.55, 0.65, 0.7, 0.75, 0.85, 0.9, 0.95], "labels": false, "tickSize": -3, "title": null}},
                "detail": {"field": "line"},
                "order": {"value": null}
              }
            },
            {
              "data": {"name": "pixels"},
              "mark": {"type": "circle", "size": 15, "color": "#3c3c3c", "opacity": 1, "clip": true},
              "encoding": {
                "x": {"field": "RED", "type": "quantitative", "scale": {"domain": [0, 0.6], "nice": false, "zero": false}, "axis": null},
                "y": {"field": "NIR", "type": "quantitative", "scale": {"domain": [0, 1], "nice": false, "zero": false}, "axis": null}
              }
            },
            {
              "data": {"name": "arrowsB"},
              "mark": {"type": "rule", "color": "black", "strokeWidth": 1},
              "encoding": {
                "x": {"field": "RED", "type": "quantitative", "scale": {"domain": [0, 0.6], "nice": false, "zero": false}, "axis": null},
                "y": {"field": "NIR", "type": "quantitative", "scale": {"domain": [0, 1], "nice": false, "zero": false}, "axis": null},
                "x2": {"field": "RED2"},
                "y2": {"field": "NIR2"}
              }
            },
            {
              "data": {"values": [{"RED": 0.523, "NIR": 0.795}]},
              "mark": {"type": "point", "shape": "triangle", "angle": 289, "filled": true, "color": "black", "opacity": 1, "size": 40},
              "encoding": {
                "x": {"field": "RED", "type": "quantitative", "scale": {"domain": [0, 0.6], "nice": false, "zero": false}, "axis": null},
                "y": {"field": "NIR", "type": "quantitative", "scale": {"domain": [0, 1], "nice": false, "zero": false}, "axis": null}
              }
            },
            {
              "data": {"values": [{"RED": 0.543, "NIR": 0.657}]},
              "mark": {"type": "point", "shape": "triangle", "angle": 220, "filled": true, "color": "black", "opacity": 1, "size": 40},
              "encoding": {
                "x": {"field": "RED", "type": "quantitative", "scale": {"domain": [0, 0.6], "nice": false, "zero": false}, "axis": null},
                "y": {"field": "NIR", "type": "quantitative", "scale": {"domain": [0, 1], "nice": false, "zero": false}, "axis": null}
              }
            },
            {
              "data": {"values": [{"RED": 0.058, "NIR": 0.9}]},
              "mark": {"type": "point", "shape": "triangle", "angle": 180, "filled": true, "color": "black", "opacity": 1, "size": 40},
              "encoding": {
                "x": {"field": "RED", "type": "quantitative", "scale": {"domain": [0, 0.6], "nice": false, "zero": false}, "axis": null},
                "y": {"field": "NIR", "type": "quantitative", "scale": {"domain": [0, 1], "nice": false, "zero": false}, "axis": null}
              }
            },
            {
              "data": {"name": "labelsB"},
              "transform": [{"filter": "datum.kind === 'num'"}],
              "mark": {"type": "text", "fontSize": 16, "align": "center", "baseline": "middle"},
              "encoding": {
                "x": {"field": "RED", "type": "quantitative", "scale": {"domain": [0, 0.6], "nice": false, "zero": false}, "axis": null},
                "y": {"field": "NIR", "type": "quantitative", "scale": {"domain": [0, 1], "nice": false, "zero": false}, "axis": null},
                "text": {"field": "text"}
              }
            },
            {
              "data": {"name": "labelsB"},
              "transform": [{"filter": "datum.kind === 'tau' || datum.kind === 'panel'"}],
              "mark": {"type": "text", "fontSize": 21, "align": "center", "baseline": "middle", "font": "DejaVu Sans"},
              "encoding": {
                "x": {"field": "RED", "type": "quantitative", "scale": {"domain": [0, 0.6], "nice": false, "zero": false}, "axis": null},
                "y": {"field": "NIR", "type": "quantitative", "scale": {"domain": [0, 1], "nice": false, "zero": false}, "axis": null},
                "text": {"field": "text"}
              }
            },
            {
              "data": {"name": "labelsB"},
              "transform": [{"filter": "datum.kind === 'A'"}],
              "mark": {"type": "text", "fontSize": 18, "fontWeight": "bold", "align": "center", "baseline": "middle"},
              "encoding": {
                "x": {"field": "RED", "type": "quantitative", "scale": {"domain": [0, 0.6], "nice": false, "zero": false}, "axis": null},
                "y": {"field": "NIR", "type": "quantitative", "scale": {"domain": [0, 1], "nice": false, "zero": false}, "axis": null},
                "text": {"field": "text"}
              }
            },
            {
              "data": {"name": "labelsB"},
              "transform": [{"filter": "datum.kind === 'sub'"}],
              "mark": {"type": "text", "fontSize": 11, "align": "center", "baseline": "middle"},
              "encoding": {
                "x": {"field": "RED", "type": "quantitative", "scale": {"domain": [0, 0.6], "nice": false, "zero": false}, "axis": null},
                "y": {"field": "NIR", "type": "quantitative", "scale": {"domain": [0, 1], "nice": false, "zero": false}, "axis": null},
                "text": {"field": "text"}
              }
            }
          ]
        },
        {
          "width": 357,
          "height": 351,
          "resolve": {"scale": {"color": "independent", "strokeWidth": "independent"}, "axis": {"x": "independent", "y": "independent"}},
          "layer": [
            {
              "data": {"name": "taulines"},
              "mark": {"type": "line", "strokeWidth": 1},
              "encoding": {
                "x": {"field": "sum", "type": "quantitative", "scale": {"domain": [0, 1.4], "nice": false, "zero": false},
                      "axis": {"orient": "bottom", "values": [0, 0.2, 0.4, 0.6, 0.8, 1, 1.2, 1.4], "format": ".1~f", "labelFontSize": 13, "labelFontWeight": "bold", "ticks": false, "labelPadding": 6, "grid": true, "title": "NIR+RED", "titleFontSize": 17, "titlePadding": 25}},
                "y": {"field": "diff", "type": "quantitative", "scale": {"domain": [0, 0.9], "nice": false, "zero": false},
                      "axis": {"orient": "left", "values": [0, 0.2, 0.4, 0.6, 0.8], "format": ".1~f", "labelFontSize": 13, "labelFontWeight": "bold", "ticks": false, "labelPadding": 10, "grid": true, "title": "NIR-RED", "titleFontSize": 17, "titlePadding": 37}},
                "color": {"field": "tau", "type": "nominal", "scale": {"domain": ["100", "60", "40", "30", "20", "10"], "range": ["#333333", "#1a1a1a", "#1a1a1a", "#1a1a1a", "#9a9a9a", "#555555"]}, "legend": null},
                "strokeDash": {"field": "tau", "type": "nominal", "scale": {"domain": ["100", "60", "40", "30", "20", "10"], "range": [[1, 0], [1, 0], [1, 0], [1, 0], [5, 3], [1, 0]]}, "legend": null}
              }
            },
            {
              "data": {"name": "curves"},
              "transform": [{"filter": "datum.seg === 'solid'"}],
              "mark": {"type": "line"},
              "encoding": {
                "x": {"field": "sum", "type": "quantitative", "scale": {"domain": [0, 1.4], "nice": false, "zero": false},
                      "axis": {"orient": "bottom", "values": [0, 0.2, 0.4, 0.6, 0.8, 1, 1.2, 1.4], "labels": false, "tickSize": -6, "title": null}},
                "y": {"field": "diff", "type": "quantitative", "scale": {"domain": [0, 0.9], "nice": false, "zero": false},
                      "axis": {"orient": "left", "values": [0, 0.2, 0.4, 0.6, 0.8], "labels": false, "tickSize": -6, "title": null}},
                "color": {"field": "Ac", "type": "nominal", "scale": {"domain": ["0.0", "0.2", "0.4", "0.6", "0.8", "1.0"], "range": ["#404040", "#b0b0b0", "#9a9a9a", "#000000", "#111111", "#000000"]}, "legend": null},
                "strokeWidth": {"field": "Ac", "type": "nominal", "scale": {"domain": ["0.0", "0.2", "0.4", "0.6", "0.8", "1.0"], "range": [2, 3.5, 2.5, 3, 2, 3.5]}, "legend": null},
                "order": {"value": null}
              }
            },
            {
              "data": {"name": "curves"},
              "transform": [{"filter": "datum.seg === 'dot'"}],
              "mark": {"type": "line", "strokeWidth": 1.6, "strokeDash": [1.5, 2]},
              "encoding": {
                "x": {"field": "sum", "type": "quantitative", "scale": {"domain": [0, 1.4], "nice": false, "zero": false},
                      "axis": {"orient": "bottom", "values": [0.05, 0.1, 0.15, 0.25, 0.3, 0.35, 0.45, 0.5, 0.55, 0.65, 0.7, 0.75, 0.85, 0.9, 0.95, 1.05, 1.1, 1.15, 1.25, 1.3, 1.35], "labels": false, "tickSize": -3, "title": null}},
                "y": {"field": "diff", "type": "quantitative", "scale": {"domain": [0, 0.9], "nice": false, "zero": false},
                      "axis": {"orient": "left", "values": [0.05, 0.1, 0.15, 0.25, 0.3, 0.35, 0.45, 0.5, 0.55, 0.65, 0.7, 0.75, 0.85], "labels": false, "tickSize": -3, "title": null}},
                "color": {"field": "Ac", "type": "nominal", "scale": {"domain": ["0.0", "0.2", "0.4", "0.6", "0.8", "1.0"], "range": ["#404040", "#b0b0b0", "#9a9a9a", "#000000", "#111111", "#000000"]}, "legend": null},
                "order": {"value": null}
              }
            },
            {
              "data": {"name": "thin"},
              "mark": {"type": "line", "strokeWidth": 1, "strokeDash": [1, 2], "color": "#6a6a6a"},
              "encoding": {
                "x": {"field": "sum", "type": "quantitative", "scale": {"domain": [0, 1.4], "nice": false, "zero": false},
                      "axis": {"orient": "top", "values": [0, 0.2, 0.4, 0.6, 0.8, 1, 1.2, 1.4], "labels": false, "tickSize": -6, "title": null}},
                "y": {"field": "diff", "type": "quantitative", "scale": {"domain": [0, 0.9], "nice": false, "zero": false},
                      "axis": {"orient": "right", "values": [0, 0.2, 0.4, 0.6, 0.8], "labels": false, "tickSize": -6, "title": null}},
                "detail": {"field": "line"},
                "order": {"value": null}
              }
            },
            {
              "data": {"name": "pixels"},
              "mark": {"type": "circle", "size": 15, "color": "#3c3c3c", "opacity": 1, "clip": true},
              "encoding": {
                "x": {"field": "sum", "type": "quantitative", "scale": {"domain": [0, 1.4], "nice": false, "zero": false},
                      "axis": {"orient": "top", "values": [0.05, 0.1, 0.15, 0.25, 0.3, 0.35, 0.45, 0.5, 0.55, 0.65, 0.7, 0.75, 0.85, 0.9, 0.95, 1.05, 1.1, 1.15, 1.25, 1.3, 1.35], "labels": false, "tickSize": -3, "title": null}},
                "y": {"field": "diff", "type": "quantitative", "scale": {"domain": [0, 0.9], "nice": false, "zero": false},
                      "axis": {"orient": "right", "values": [0.05, 0.1, 0.15, 0.25, 0.3, 0.35, 0.45, 0.5, 0.55, 0.65, 0.7, 0.75, 0.85], "labels": false, "tickSize": -3, "title": null}}
              }
            },
            {
              "data": {"name": "arrowsC"},
              "mark": {"type": "rule", "color": "black", "strokeWidth": 1},
              "encoding": {
                "x": {"field": "sum", "type": "quantitative", "scale": {"domain": [0, 1.4], "nice": false, "zero": false}, "axis": null},
                "y": {"field": "diff", "type": "quantitative", "scale": {"domain": [0, 0.9], "nice": false, "zero": false},
                      "axis": {"orient": "right", "values": [0.45], "labels": false, "tickSize": 24, "tickOpacity": 0, "title": null}},
                "x2": {"field": "sum2"},
                "y2": {"field": "diff2"}
              }
            },
            {
              "data": {"values": [{"sum": 1.302, "diff": 0.268}]},
              "mark": {"type": "point", "shape": "triangle", "angle": 340, "filled": true, "color": "black", "opacity": 1, "size": 40},
              "encoding": {
                "x": {"field": "sum", "type": "quantitative", "scale": {"domain": [0, 1.4], "nice": false, "zero": false}, "axis": null},
                "y": {"field": "diff", "type": "quantitative", "scale": {"domain": [0, 0.9], "nice": false, "zero": false}, "axis": null}
              }
            },
            {
              "data": {"values": [{"sum": 1.211, "diff": 0.092}]},
              "mark": {"type": "point", "shape": "triangle", "angle": 225, "filled": true, "color": "black", "opacity": 1, "size": 40},
              "encoding": {
                "x": {"field": "sum", "type": "quantitative", "scale": {"domain": [0, 1.4], "nice": false, "zero": false}, "axis": null},
                "y": {"field": "diff", "type": "quantitative", "scale": {"domain": [0, 0.9], "nice": false, "zero": false}, "axis": null}
              }
            },
            {
              "data": {"values": [{"sum": 0.910, "diff": 0.832}]},
              "mark": {"type": "point", "shape": "triangle", "angle": 220, "filled": true, "color": "black", "opacity": 1, "size": 40},
              "encoding": {
                "x": {"field": "sum", "type": "quantitative", "scale": {"domain": [0, 1.4], "nice": false, "zero": false}, "axis": null},
                "y": {"field": "diff", "type": "quantitative", "scale": {"domain": [0, 0.9], "nice": false, "zero": false}, "axis": null}
              }
            },
            {
              "data": {"name": "labelsC"},
              "transform": [{"filter": "datum.kind === 'num'"}],
              "mark": {"type": "text", "fontSize": 16, "align": "center", "baseline": "middle"},
              "encoding": {
                "x": {"field": "sum", "type": "quantitative", "scale": {"domain": [0, 1.4], "nice": false, "zero": false}, "axis": null},
                "y": {"field": "diff", "type": "quantitative", "scale": {"domain": [0, 0.9], "nice": false, "zero": false}, "axis": null},
                "text": {"field": "text"}
              }
            },
            {
              "data": {"name": "labelsC"},
              "transform": [{"filter": "datum.kind === 'tau'"}],
              "mark": {"type": "text", "fontSize": 21, "align": "center", "baseline": "middle", "font": "DejaVu Sans"},
              "encoding": {
                "x": {"field": "sum", "type": "quantitative", "scale": {"domain": [0, 1.4], "nice": false, "zero": false}, "axis": null},
                "y": {"field": "diff", "type": "quantitative", "scale": {"domain": [0, 0.9], "nice": false, "zero": false}, "axis": null},
                "text": {"field": "text"}
              }
            },
            {
              "data": {"name": "labelsC"},
              "transform": [{"filter": "datum.kind === 'panel' || datum.kind === 'A'"}],
              "mark": {"type": "text", "fontSize": 20, "fontWeight": "bold", "align": "center", "baseline": "middle"},
              "encoding": {
                "x": {"field": "sum", "type": "quantitative", "scale": {"domain": [0, 1.4], "nice": false, "zero": false}, "axis": null},
                "y": {"field": "diff", "type": "quantitative", "scale": {"domain": [0, 0.9], "nice": false, "zero": false}, "axis": null},
                "text": {"field": "text"}
              }
            },
            {
              "data": {"name": "labelsC"},
              "transform": [{"filter": "datum.kind === 'sub'"}],
              "mark": {"type": "text", "fontSize": 11, "align": "center", "baseline": "middle"},
              "encoding": {
                "x": {"field": "sum", "type": "quantitative", "scale": {"domain": [0, 1.4], "nice": false, "zero": false}, "axis": null},
                "y": {"field": "diff", "type": "quantitative", "scale": {"domain": [0, 0.9], "nice": false, "zero": false}, "axis": null},
                "text": {"field": "text"}
              }
            }
          ]
        }
      ]
    }
  ]
}
